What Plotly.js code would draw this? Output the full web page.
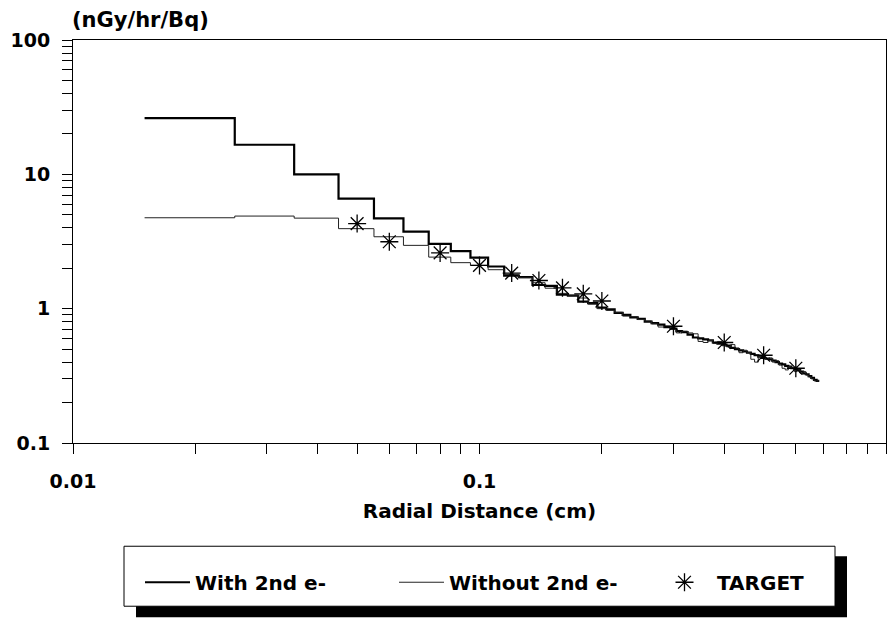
<!DOCTYPE html>
<html>
<head>
<meta charset="utf-8">
<script src="https://cdn.plot.ly/plotly-3.0.1.min.js"></script>
<style>
html,body{margin:0;padding:0;background:#fff;}
#chart{width:888px;height:621px;}
</style>
</head>
<body>
<div id="chart"></div>
<script>
// Bin edges (cm) of the histogram-like dose curves
const binEdges = [0.015,0.025,0.035,0.045,0.055,0.065,0.075,0.085,0.095,0.105,
  0.115,0.125,0.135,0.145,0.155,0.165,0.175,0.185,0.195,0.205,
  0.215,0.225,0.235,0.245,0.255,0.265,0.275,0.285,0.295,0.305,
  0.315,0.325,0.335,0.345,0.355,0.365,0.375,0.385,0.395,0.405,
  0.415,0.425,0.435,0.445,0.455,0.465,0.475,0.485,0.495,0.505,
  0.515,0.525,0.535,0.545,0.555,0.565,0.575,0.585,0.595,0.605,
  0.615,0.625,0.635,0.645,0.655,0.665,0.675,0.685];

// With 2nd e- (nGy/hr/Bq), one value per bin
const withSecond = [26.2,16.6,10.0,6.6,4.7,3.75,3.04,2.68,
  2.40,2.06,1.76,1.72,1.50,1.48,1.27,1.25,1.13,1.10,
  1.02,0.99,0.93,0.90,0.86,0.84,0.80,0.78,0.76,0.73,
  0.71,0.68,0.67,0.64,0.61,0.60,0.59,0.58,0.56,0.55,
  0.54,0.53,0.51,0.50,0.49,0.48,0.47,0.46,0.45,0.44,
  0.43,0.425,0.42,0.41,0.40,0.39,0.385,0.375,0.37,0.36,
  0.355,0.35,0.34,0.33,0.325,0.315,0.305,0.295,0.29];

// Without 2nd e-
const withoutSecond = [4.75,4.89,4.72,3.94,3.43,2.96,2.42,2.20,
  2.10,1.95,1.80,1.70,1.56,1.42,1.30,1.26,1.20,1.08,
  1.00,0.97,0.94,0.88,0.87,0.83,0.81,0.77,0.73,0.74,
  0.70,0.66,0.68,0.66,0.65,0.57,0.56,0.58,0.55,0.57,
  0.53,0.52,0.54,0.51,0.47,0.49,0.47,0.42,0.40,0.44,
  0.44,0.42,0.43,0.40,0.41,0.38,0.36,0.35,0.37,0.36,
  0.34,0.35,0.33,0.34,0.32,0.31,0.30,0.29,0.29];

// TARGET points
const targetX = [0.05,0.06,0.08,0.1,0.12,0.14,0.16,0.18,0.2,0.3,0.4,0.5,0.6];
const targetY = [4.3,3.15,2.6,2.1,1.84,1.62,1.43,1.29,1.14,0.74,0.56,0.45,0.36];

// Axis ticks
const xTickVals = [0.01,0.02,0.03,0.04,0.05,0.06,0.07,0.08,0.09,0.1,0.2,0.3,0.4,0.5,0.6,0.7,0.8,0.9,1];
const xTickText = ['0.01','','','','','','','','','0.1','','','','','','','','','1'];
const yTickVals = [0.1,0.2,0.3,0.4,0.5,0.6,0.7,0.8,0.9,1,2,3,4,5,6,7,8,9,10,20,30,40,50,60,70,80,90,100];
const yTickText = ['0.1','','','','','','','','','1','','','','','','','','','10','','','','','','','','','100'];

const FONT = 'DejaVu Sans, Verdana, sans-serif';

const withY = withSecond.concat([withSecond[withSecond.length-1]]);
const withoutY = withoutSecond.concat([withoutSecond[withoutSecond.length-1]]);

const traces = [
  {x: binEdges, y: withY, type:'scatter', mode:'lines', name:'With 2nd e-',
   line:{color:'#000', width:2.2, shape:'hv'}, legend:'legend'},
  {x: binEdges, y: withoutY, type:'scatter', mode:'lines', name:'Without 2nd e-',
   line:{color:'#222', width:1, shape:'hv'}, legend:'legend2'},
  {x: targetX, y: targetY, type:'scatter', mode:'markers', name:'TARGET',
   marker:{symbol:'asterisk-open', size:15, color:'#000', line:{color:'#000', width:1.3}}, legend:'legend3'}
];

const legendFont = {family: FONT, size: 20, color:'#000', weight:'bold'};
const legBase = {orientation:'h', bgcolor:'rgba(0,0,0,0)', borderwidth:0, font: legendFont,
  xanchor:'left', yanchor:'middle', y:-0.3455, itemwidth:45};

const layout = {
  width: 888, height: 621,
  margin: {l:73, r:2, t:40, b:178},
  paper_bgcolor:'#fff', plot_bgcolor:'#fff',
  showlegend: true,
  title: {text:'(nGy/hr/Bq)', xref:'container', yref:'container', x: 72/888, xanchor:'left',
          y: 1-20/621, yanchor:'middle', font:{family:FONT, size:21, color:'#000', weight:'bold'}},
  xaxis: {type:'log', range:[-2,0], tickmode:'array', tickvals:xTickVals, ticktext:xTickText,
          ticks:'outside', ticklen:10, tickwidth:1, tickcolor:'#000',
          showline:true, linecolor:'#000', linewidth:1, mirror:true,
          showgrid:false, zeroline:false, ticklabelstandoff:11,
          tickfont:{family:FONT, size:19, color:'#000', weight:'bold'},
          title:{text:'Radial Distance (cm)', standoff:13, font:{family:FONT, size:20, color:'#000', weight:'bold'}},
          automargin:false},
  yaxis: {type:'log', range:[-1,2], tickmode:'array', tickvals:yTickVals, ticktext:yTickText,
          ticks:'outside', ticklen:10, tickwidth:1, tickcolor:'#000',
          showline:true, linecolor:'#000', linewidth:1, mirror:true,
          showgrid:false, zeroline:false, ticklabelstandoff:8,
          tickfont:{family:FONT, size:19, color:'#000', weight:'bold'},
          automargin:false},
  legend: Object.assign({}, legBase, {x:(140-73)/813}),
  legend2: Object.assign({}, legBase, {x:(394-73)/813}),
  legend3: Object.assign({}, legBase, {x:(652-73)/813, itemwidth:55}),
  shapes: [
    {type:'rect', xref:'paper', yref:'paper', x0:(136-73)/813, x1:(847-73)/813,
     y0:(442.7-556)/403.2, y1:(442.7-617)/403.2, fillcolor:'#000', line:{width:0}, layer:'above'},
    {type:'rect', xref:'paper', yref:'paper', x0:(124-73)/813, x1:(835-73)/813,
     y0:(442.7-546)/403.2, y1:(442.7-606)/403.2, fillcolor:'#fff', line:{color:'#000', width:1}, layer:'above'}
  ]
};

Plotly.newPlot('chart', traces, layout, {displayModeBar:false, staticPlot:true});
</script>
</body>
</html>
